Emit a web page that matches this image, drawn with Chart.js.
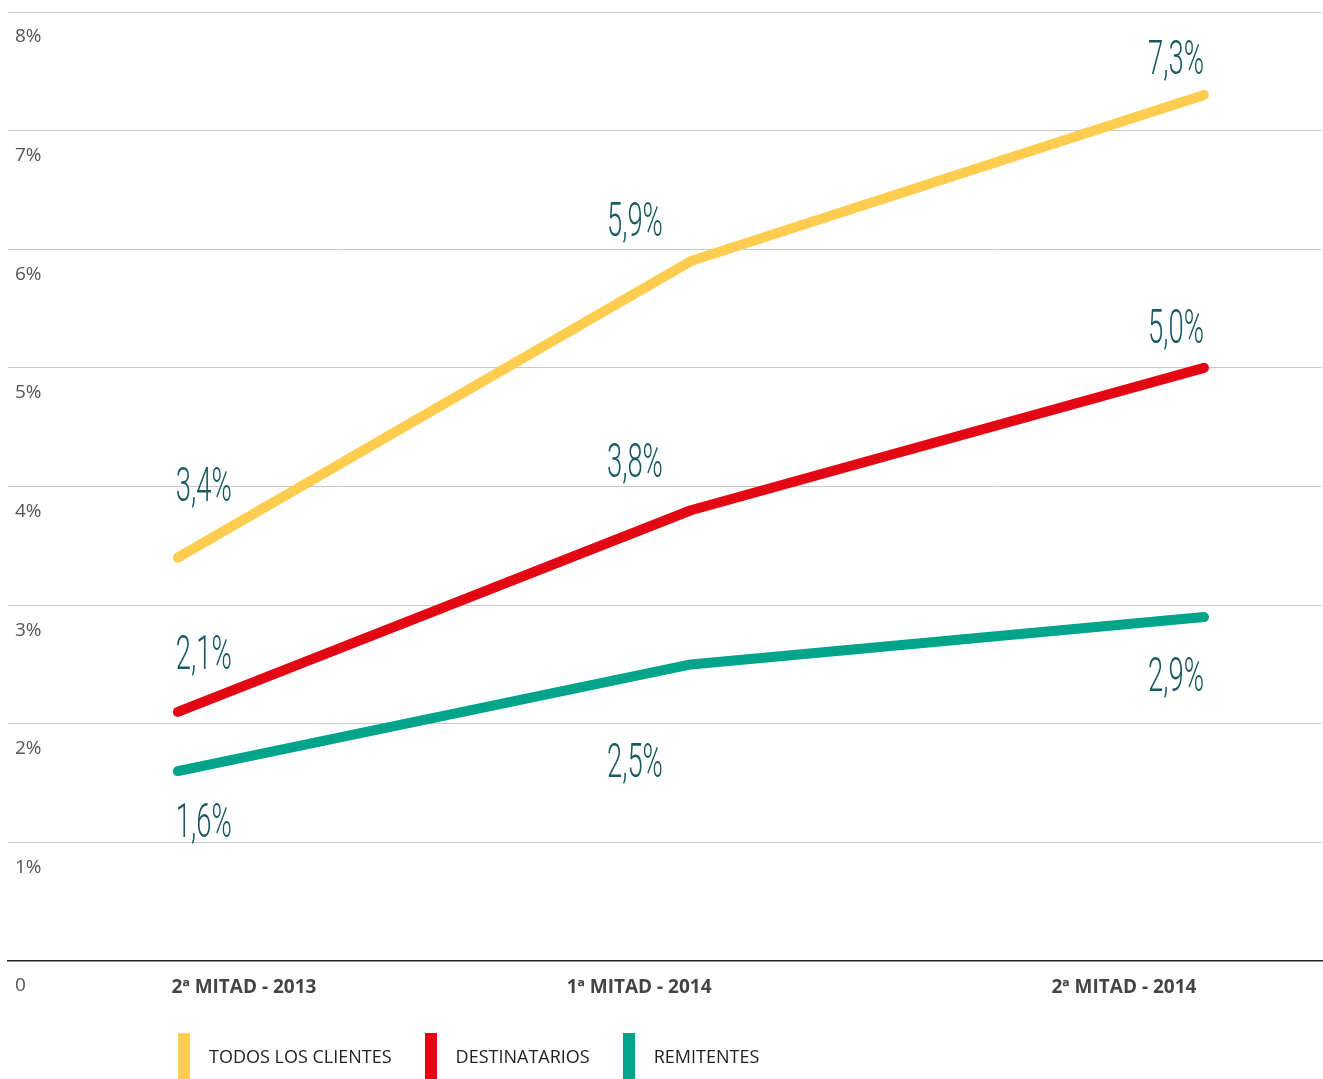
<!DOCTYPE html>
<html>
<head>
<meta charset="utf-8">
<script src="https://cdn.jsdelivr.net/npm/chart.js@4.4.1/dist/chart.umd.min.js"></script>
<style>
  html, body { margin: 0; padding: 0; background: #fff; }
  #wrap { position: relative; width: 1323px; height: 1079px; overflow: hidden; }
  #legend { position: absolute; left: 178px; top: 1033px; display: flex; font-family: "Open Sans", sans-serif; font-size: 18px; color: #222; }
  .item { display: flex; align-items: center; margin-right: 33px; }
  .swatch { width: 12px; height: 46px; margin-right: 19px; }
</style>
</head>
<body>
<div id="wrap">
  <canvas id="myChart" width="1323" height="1079"></canvas>
  <div id="legend"></div>
</div>
<script>
// periods on the x axis
const PERIODS = ['2ª MITAD - 2013', '1ª MITAD - 2014', '2ª MITAD - 2014'];
const SERIES = ['TODOS LOS CLIENTES', 'DESTINATARIOS', 'REMITENTES'];

// values in %
const TODOS = [3.4, 5.9, 7.3];
const DESTINATARIOS = [2.1, 3.8, 5.0];
const REMITENTES = [1.6, 2.5, 2.9];

const COLORS = ['#fecc4f', '#e30613', '#00a48a'];

// the period labels are not centred under the points in the original
const PERIOD_LABEL_AT = [0.129, 0.899, 1.844];

// where the value labels sit relative to their point (dx, dy)
const LABEL_OFFSETS = [
    [[26, -75], [-56, -43], [-28, -39]],
    [[26, -61], [-56, -51], [-28, -43]],
    [[26, 48], [-56, 95], [-28, 56]]
];

function toPoints(values) {
    return values.map(function (v, i) { return { x: i, y: v }; });
}

const valueLabels = {
    id: 'valueLabels',
    afterDatasetsDraw(chart) {
        const ctx = chart.ctx;
        chart.data.datasets.forEach(function (ds, i) {
            const meta = chart.getDatasetMeta(i);
            meta.data.forEach(function (pt, j) {
                const off = LABEL_OFFSETS[i][j];
                const text = ds.data[j].y.toFixed(1).replace('.', ',') + '%';
                ctx.save();
                ctx.translate(pt.x + off[0], pt.y + off[1] + 18);
                ctx.scale(0.56, 1);
                ctx.font = '300 49px Roboto';
                ctx.fillStyle = '#18595f';
                ctx.textAlign = 'center';
                ctx.textBaseline = 'alphabetic';
                ctx.fillText(text, 0, 0);
                ctx.restore();
            });
        });
    }
};

const allSeries = [TODOS, DESTINATARIOS, REMITENTES];
const datasets = allSeries.map(function (values, i) {
    return {
        label: SERIES[i],
        data: toPoints(values),
        borderColor: COLORS[i],
        backgroundColor: COLORS[i],
        borderWidth: 10,
        borderCapStyle: 'round',
        borderJoinStyle: 'bevel',
        pointRadius: 0,
        tension: 0
    };
});

new Chart(document.getElementById('myChart'), {
    type: 'line',
    data: { datasets: datasets },
    plugins: [valueLabels],
    options: {
        responsive: false,
        animation: false,
        layout: { padding: { left: 8, right: 1, top: 12, bottom: 0 } },
        plugins: {
            legend: { display: false },
            tooltip: { enabled: false }
        },
        scales: {
            x: {
                type: 'linear',
                min: -0.331,
                max: 2.23,
                afterBuildTicks: function (scale) {
                    scale.ticks = PERIOD_LABEL_AT.map(function (v) { return { value: v }; });
                },
                afterFit: function (scale) {
                    scale.height = 118;
                    scale.paddingLeft = 0;
                    scale.paddingRight = 0;
                },
                grid: { display: false, drawTicks: false },
                border: { display: true, color: '#222', width: 1.5 },
                ticks: {
                    autoSkip: false,
                    maxRotation: 0,
                    padding: 15,
                    color: '#444',
                    font: { family: '"Open Sans"', size: 19, weight: 'bold' },
                    callback: function (v) { return PERIODS[PERIOD_LABEL_AT.indexOf(v)]; }
                }
            },
            y: {
                min: 0,
                max: 8,
                afterFit: function (scale) {
                    scale.width = 0;
                    scale.paddingTop = 0;
                    scale.paddingBottom = 0;
                },
                border: { display: false },
                grid: {
                    drawTicks: false,
                    lineWidth: 1,
                    color: function (c) { return c.tick && c.tick.value === 0 ? 'rgba(0,0,0,0)' : '#c9c9c9'; }
                },
                ticks: {
                    stepSize: 1,
                    mirror: true,
                    padding: 7,
                    labelOffset: 25,
                    color: '#555',
                    font: { family: '"Open Sans"', size: 19 },
                    callback: function (v) { return v === 0 ? '0' : v + '%'; }
                }
            }
        }
    }
});

// legend below the plot
const legend = document.getElementById('legend');
SERIES.forEach(function (name, i) {
    const item = document.createElement('div');
    item.className = 'item';
    item.innerHTML = '<div class="swatch" style="background:' + COLORS[i] + '"></div><span>' + name + '</span>';
    legend.appendChild(item);
});
</script>
</body>
</html>
